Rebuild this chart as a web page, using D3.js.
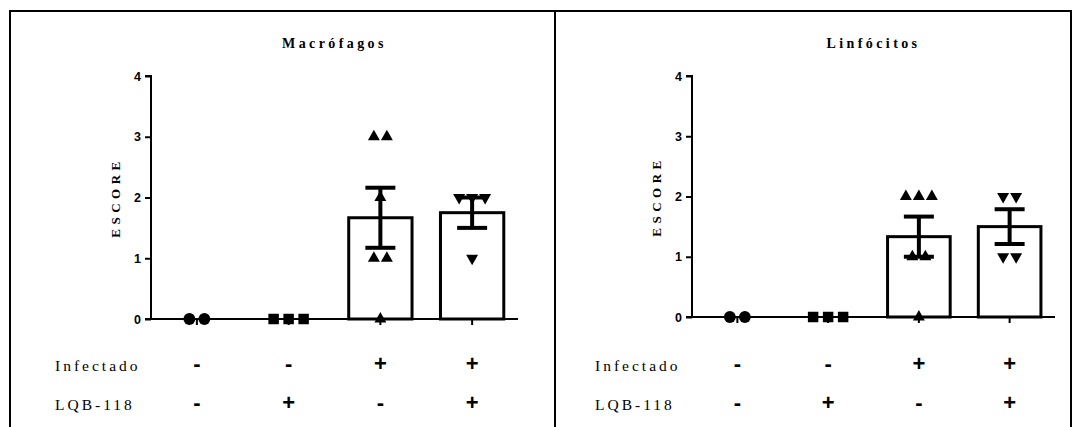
<!DOCTYPE html>
<html>
<head>
<meta charset="utf-8">
<script src="https://cdn.jsdelivr.net/npm/d3@7"></script>
<style>
  body { margin: 0; background: #fff; }
  svg { display: block; }
</style>
</head>
<body>
<svg id="chart" width="1081" height="427"></svg>
<script>
// groups and treatment table
var groups = ['ctrl', 'lqb', 'inf', 'infLqb'];
var infectado = ['-', '-', '+', '+'];
var lqb118 = ['-', '+', '-', '+'];
var shapes = ['circle', 'square', 'triangle', 'triangleDown'];
var yTicks = [0, 1, 2, 3, 4];

// individual scores
var macroScores = [[0, 0], [0, 0, 0], [3, 3, 2, 1, 1, 0], [2, 2, 2, 1]];
var linfoScores = [[0, 0], [0, 0, 0], [2, 2, 2, 1, 1, 0], [2, 2, 1, 1]];

var svg = d3.select('#chart');

// frame
var frame = svg.append('g').attr('stroke', '#000').attr('stroke-width', 2);
frame.append('line').attr('x1', 9).attr('x2', 1072).attr('y1', 11).attr('y2', 11);
frame.append('line').attr('x1', 10).attr('x2', 10).attr('y1', 10).attr('y2', 427);
frame.append('line').attr('x1', 555).attr('x2', 555).attr('y1', 10).attr('y2', 427);
frame.append('line').attr('x1', 1071).attr('x2', 1071).attr('y1', 10).attr('y2', 427);

function sem(v) {
  if (v.length < 2) return 0;
  return d3.deviation(v) / Math.sqrt(v.length);
}

function symbolPath(shape) {
  if (shape == 'circle') return d3.symbol().type(d3.symbolCircle).size(110)();
  if (shape == 'square') return d3.symbol().type(d3.symbolSquare).size(110)();
  return d3.symbol().type(d3.symbolTriangle).size(62)();
}

function drawPanel(title, scores, x0, x1, yBase, yTop, labelX) {
  var g = svg.append('g');

  var x = d3.scaleBand().domain(groups).range([x0, x1])
    .paddingInner(0.31).paddingOuter(0.155);
  var y = d3.scaleLinear().domain([0, 4]).range([yBase, yTop]);

  var data = groups.map(function(k, i) {
    return {key: k, vals: scores[i], mean: d3.mean(scores[i]), err: sem(scores[i]), shape: shapes[i]};
  });

  // bars
  g.selectAll('.bar')
    .data(data.filter(function(d) { return d.mean > 0; }))
    .enter().append('rect')
    .attr('class', 'bar')
    .attr('x', function(d) { return x(d.key); })
    .attr('width', x.bandwidth())
    .attr('y', function(d) { return y(d.mean); })
    .attr('height', function(d) { return y(0) - y(d.mean); })
    .attr('fill', '#fff').attr('stroke', '#000').attr('stroke-width', 3);

  // x axis baseline + small ticks at group centers
  g.append('line').attr('x1', x0).attr('x2', x1)
    .attr('y1', y(0)).attr('y2', y(0))
    .attr('stroke', '#000').attr('stroke-width', 2);
  g.selectAll('.xtick').data(groups).enter().append('line')
    .attr('x1', function(d) { return x(d) + x.bandwidth() / 2; })
    .attr('x2', function(d) { return x(d) + x.bandwidth() / 2; })
    .attr('y1', y(0)).attr('y2', y(0) + 6)
    .attr('stroke', '#000').attr('stroke-width', 2);

  // y axis
  var yAxis = g.append('g')
    .attr('transform', 'translate(' + x0 + ',0)')
    .attr('font-size', 12.5)
    .call(d3.axisLeft(y).tickValues(yTicks).tickSize(6).tickPadding(4).tickFormat(d3.format('d')));
  yAxis.select('.domain').attr('stroke-width', 2).attr('d', 'M-6,' + y(4) + 'H0V' + y(0) + 'H-6');
  yAxis.selectAll('.tick line').attr('stroke-width', 2);
  yAxis.selectAll('.tick text')
    .attr('font-family', 'Liberation Sans, Arial, sans-serif')
    .attr('font-weight', 'bold').attr('font-size', 12.5);

  // error bars
  var eb = g.selectAll('.err').data(data.filter(function(d) { return d.err > 0; }))
    .enter().append('g').attr('stroke', '#000').attr('stroke-width', 4);
  eb.append('line')
    .attr('x1', function(d) { return x(d.key) + x.bandwidth() / 2; })
    .attr('x2', function(d) { return x(d.key) + x.bandwidth() / 2; })
    .attr('y1', function(d) { return y(d.mean + d.err); })
    .attr('y2', function(d) { return y(d.mean - d.err); });
  eb.append('line')
    .attr('x1', function(d) { return x(d.key) + x.bandwidth() / 2 - 15; })
    .attr('x2', function(d) { return x(d.key) + x.bandwidth() / 2 + 15; })
    .attr('y1', function(d) { return y(d.mean + d.err); })
    .attr('y2', function(d) { return y(d.mean + d.err); });
  eb.append('line')
    .attr('x1', function(d) { return x(d.key) + x.bandwidth() / 2 - 15; })
    .attr('x2', function(d) { return x(d.key) + x.bandwidth() / 2 + 15; })
    .attr('y1', function(d) { return y(d.mean - d.err); })
    .attr('y2', function(d) { return y(d.mean - d.err); });

  // points, dodged side by side when they share a value
  var pts = [];
  data.forEach(function(d) {
    var counts = d3.rollup(d.vals, function(v) { return v.length; }, function(v) { return v; });
    var seen = {};
    d.vals.forEach(function(v) {
      var n = counts.get(v);
      seen[v] = (seen[v] || 0);
      var step = (d.shape == 'circle' || d.shape == 'square') ? 15 : 13;
      var off = (seen[v] - (n - 1) / 2) * step;
      seen[v]++;
      pts.push({cx: x(d.key) + x.bandwidth() / 2 + off, cy: y(v), shape: d.shape});
    });
  });
  g.selectAll('.pt').data(pts).enter().append('path')
    .attr('d', function(d) { return symbolPath(d.shape); })
    .attr('transform', function(d) {
      return 'translate(' + d.cx + ',' + d.cy + ')' + (d.shape == 'triangleDown' ? ' rotate(180)' : '');
    })
    .attr('fill', '#000');

  // title
  g.append('text').attr('x', (x0 + x1) / 2).attr('y', 48)
    .attr('text-anchor', 'middle')
    .style('font-family', 'Liberation Serif, Times New Roman, serif')
    .style('font-weight', 'bold').style('font-size', '14px').style('letter-spacing', '3.4px')
    .text(title);

  // y label
  g.append('text')
    .attr('transform', 'translate(' + (x0 - 31) + ',' + ((yBase + yTop) / 2) + ') rotate(-90)')
    .attr('text-anchor', 'middle')
    .style('font-family', 'Liberation Serif, Times New Roman, serif')
    .style('font-weight', 'bold').style('font-size', '13px').style('letter-spacing', '4.5px')
    .text('ESCORE');

  // treatment rows
  var rows = [{name: 'Infectado', signs: infectado, y: 371}, {name: 'LQB-118', signs: lqb118, y: 410}];
  rows.forEach(function(r) {
    g.append('text').attr('x', labelX).attr('y', r.y)
      .style('font-family', 'Liberation Serif, Times New Roman, serif')
      .style('font-size', '15.5px').style('letter-spacing', '3px')
      .text(r.name);
    g.selectAll(null).data(r.signs).enter().append('text')
      .attr('x', function(d, i) { return x(groups[i]) + x.bandwidth() / 2; })
      .attr('y', r.y)
      .attr('text-anchor', 'middle')
      .style('font-family', 'Liberation Sans, Arial, sans-serif')
      .style('font-weight', 'bold').style('font-size', '22px')
      .text(function(d) { return d; });
  });
}

drawPanel('Macrófagos', macroScores, 151, 518, 319, 76, 55);
drawPanel('Linfócitos', linfoScores, 692, 1055, 317, 76, 595);
</script>
</body>
</html>
